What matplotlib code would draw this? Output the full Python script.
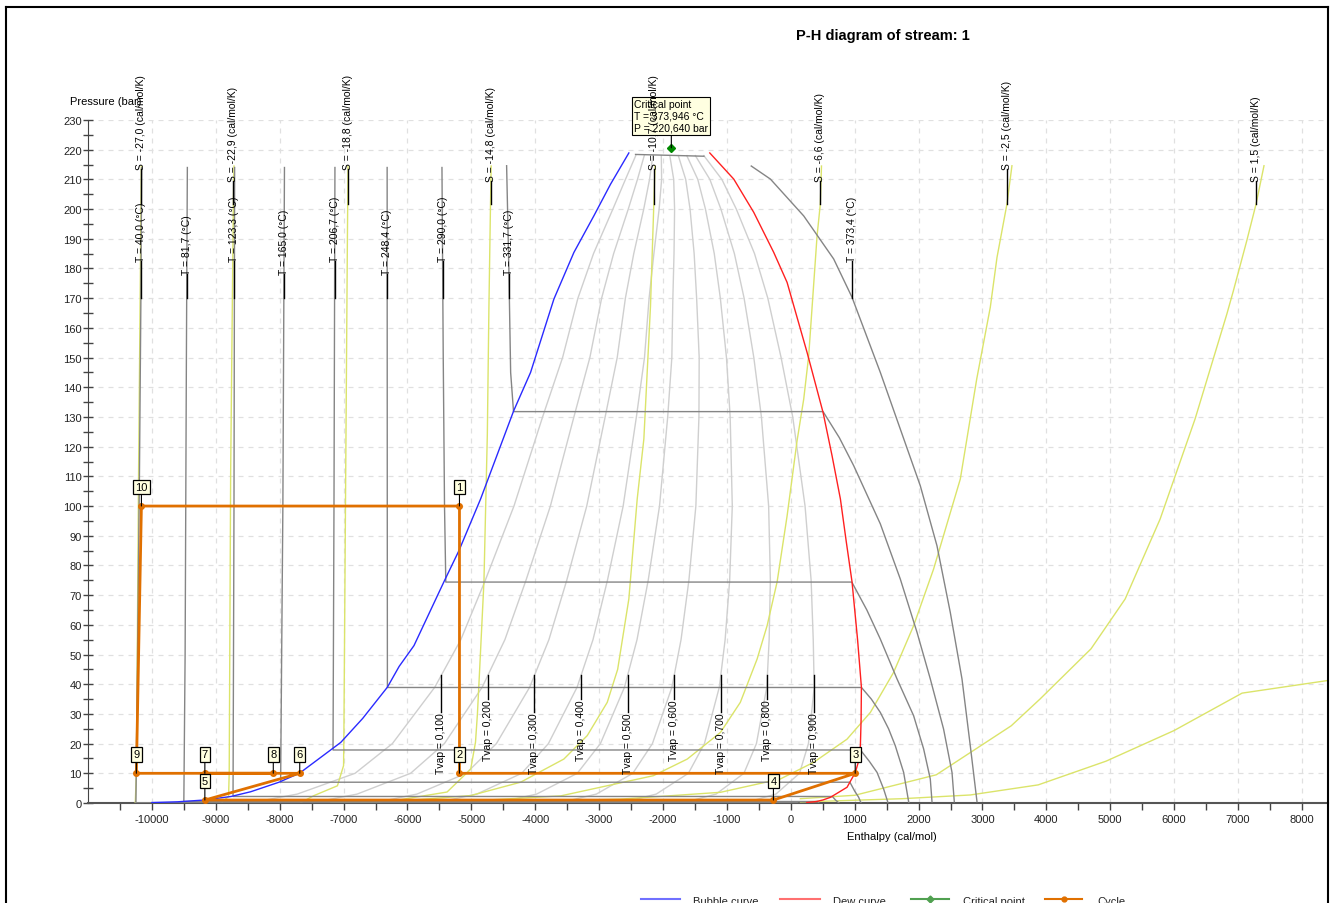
import numpy as np
import matplotlib
matplotlib.use("Agg")
import matplotlib.pyplot as plt
from matplotlib.lines import Line2D

plt.rcParams['font.family'] = ['Liberation Sans', 'DejaVu Sans']
plt.rcParams['axes.unicode_minus'] = False

# ---------------- saturation dome (H in cal/mol, P in bar) ----------------
bubble_h = [-10000, -9600, -9182, -8760, -8452, -8010, -7685, -7044, -6700, -6314, -6130,
            -5898, -5429, -5194, -4855, -4337, -4073, -3708, -3395, -3083, -2821, -2535]
bubble_p = [0.15, 0.4, 1.0, 2.2, 3.8, 7.0, 10.1, 20.4, 28.5, 39.0, 46.0,
            53.0, 74.5, 85.0, 102.4, 132.1, 145.0, 169.7, 185.4, 197.7, 208.4, 218.9]

dew_h = [250, 400, 500, 619, 880, 1010, 1060, 1089, 1100, 1105, 1045, 958, 868, 776,
         645, 505, 255, -58, -267, -580, -893, -1268]
dew_p = [0.15, 0.5, 1.0, 1.9, 5.3, 10.3, 14.0, 19.3, 28.0, 39.0, 55.0, 74.5, 88.0, 102.4,
         117.0, 131.5, 151.7, 175.3, 185.4, 198.9, 210.1, 218.9]

crit_h = -1870
crit_p = 220.64

# ---------------- constant vapour fraction lines ----------------
quality_p = [0.5, 1, 3, 10, 20, 39, 55, 75, 100, 130, 150, 170, 185, 200, 210, 218]
quality_values = [0.1, 0.2, 0.3, 0.4, 0.5, 0.6, 0.7, 0.8, 0.9]
quality_h = [
    [-8927, -8224, -7725, -6820, -6236, -5572, -5165, -4782, -4333, -3885, -3572, -3332, -3088, -2785, -2588, -2427],
    [-7904, -7267, -6788, -5951, -5422, -4830, -4475, -4145, -3763, -3395, -3145, -2961, -2773, -2544, -2400, -2294],
    [-6881, -6309, -5852, -5081, -4608, -4087, -3786, -3507, -3194, -2906, -2717, -2589, -2458, -2302, -2211, -2160],
    [-5858, -5352, -4915, -4212, -3794, -3345, -3096, -2870, -2624, -2417, -2290, -2218, -2143, -2061, -2022, -2027],
    [-4835, -4394, -3979, -3342, -2980, -2603, -2407, -2232, -2055, -1927, -1862, -1846, -1828, -1819, -1833, -1894],
    [-3812, -3437, -3043, -2473, -2166, -1861, -1718, -1595, -1486, -1438, -1434, -1474, -1513, -1577, -1645, -1761],
    [-2789, -2479, -2106, -1603, -1352, -1119, -1028, -957, -916, -949, -1007, -1103, -1198, -1336, -1456, -1628],
    [-1766, -1522, -1170, -734, -538, -376, -339, -320, -347, -460, -579, -731, -883, -1094, -1267, -1494],
    [-743, -564, -233, 136, 276, 366, 351, 318, 223, 30, -152, -360, -568, -853, -1079, -1361],
]

# ---------------- isotherms ----------------
iso_T = [40.0, 81.7, 123.3, 165.0, 206.7, 248.4, 290.0, 331.7, 373.4]
iso_h = [
    [-10160, -10172, -10195, -10225, -10250, 104, 110],
    [-9445, -9460, -9480, -9500, 420, 440],
    [-8705, -8715, -8730, 650, 700, 755],
    [-7925, -7950, -7985, 925, 1000, 1060, 1100],
    [-7135, -7150, -7165, 1090, 1230, 1350, 1453, 1516, 1520],
    [-6318, -6316, -6314, 1106, 1260, 1401, 1530, 1635, 1766, 1844, 1850],
    [-5460, -5440, -5420, -5400, 955, 1190, 1401, 1662, 1922, 2079, 2183, 2210],
    [-4448, -4412, -4385, -4340, 505, 760, 984, 1401, 1714, 1975, 2183, 2391, 2523, 2559],
    [-2430, -1360, np.nan, -619, -319, 202, 671, 958, 1401, 1714, 2027, 2288, 2496, 2679, 2809, 2914],
]
iso_p = [
    [214, 170, 110, 50, 0.074, 0.074, 0],
    [214, 150, 50, 0.5, 0.5, 0],
    [214, 100, 2.2, 2.2, 1.0, 0],
    [214, 100, 7.0, 7.0, 4.0, 2.0, 0],
    [214, 100, 17.85, 17.85, 14.0, 10.3, 4.7, 0.44, 0],
    [214, 100, 38.9, 38.9, 35.0, 30.5, 25.0, 19.3, 10.3, 0.45, 0],
    [214, 150, 100, 74.4, 74.4, 65.0, 55.2, 41.8, 29.4, 18.2, 8.1, 0.4],
    [214.6, 178.7, 145, 131.8, 131.8, 123.0, 113.6, 94, 75.4, 57.5, 41.8, 24.9, 10.3, 0.4],
    [218.4, 217.8, np.nan, 214.5, 210.1, 197.7, 183.2, 170.3, 145, 125.9, 106.8, 86.6, 64.2, 41.8, 19.3, 0.45],
]

# ---------------- isentropes ----------------
isen_S = [-27.0, -22.9, -18.8, -14.8, -10.7, -6.6, -2.5, 1.5, 5.6]
isen_h = [
    [-10260, -10243, -10208, -10186, -10170, -10165],
    [-8900, -8800, -8790, -8767, -8740, -8725, -8715],
    [-7670, -7462, -7096, -7000, -6995, -6966, -6940, -6930],
    [-6730, -6200, -5380, -5010, -4935, -4905, -4870, -4803, -4750, -4725, -4700, -4690],
    [-7200, -6100, -5011, -4229, -3552, -3186, -2873, -2710, -2535, -2404, -2300, -2196, -2144, -2125],
    [-5000, -3600, -2150, -1620, -1100, -790, -527, -371, -214, -58, 98, 202, 280, 411, 462, 480],
    [-4229, -2666, -1101, -163, 358, 880, 1245, 1609, 1922, 2235, 2653, 2910, 3122, 3227, 3383, 3461],
    [150, 1001, 2277, 3450, 3900, 4698, 5233, 5780, 6327, 6824, 6927, 7136, 7282, 7406],
    [150, 1745, 2808, 3872, 4935, 5999, 7063, 8451],
]
isen_p = [
    [0.1, 10, 112, 165, 202, 214.5],
    [0.3, 2.2, 10, 112, 170, 202, 214.5],
    [0.1, 2.5, 5.8, 12.6, 22.7, 112.5, 190, 214.5],
    [0.1, 0.8, 3.7, 11.4, 20.5, 30, 45, 74.5, 124, 167, 202, 214.5],
    [0.1, 0.7, 2.5, 7.0, 14.8, 22.7, 33.9, 45, 68.7, 102.4, 122.6, 167.4, 201.7, 214.5],
    [0.7, 2.4, 9.2, 14.8, 23.8, 33.9, 48.5, 59.7, 74.5, 96.7, 122, 136, 150.6, 191, 201.7, 214.5],
    [0.4, 1.3, 3.6, 8.1, 13.7, 21.5, 30.5, 44, 59.7, 78.8, 109.1, 142.8, 166.9, 183.7, 201.7, 214.6],
    [1.45, 2.6, 9.5, 26.0, 35.0, 51.9, 68.7, 95.6, 129.3, 164.6, 172.5, 189.3, 201.7, 214.6],
    [0.34, 1.45, 2.7, 6.1, 14.1, 24.4, 37, 41.4],
]
isen_labelled = 8  # the last isentrope leaves the chart before its label point

# ---------------- cycle of stream 1 ----------------
cycle_labels = ['1', '2', '3', '4', '5', '6', '7', '8', '9', '10']
cycle_h = [-5186, -5186, 1008, -272, -9171, -7686, -9171, -8100, -10243, -10164]
cycle_p = [100, 10, 10, 1, 1, 10, 10, 10, 10, 100]

# ---------------- colours ----------------
C_ISO = '#858585'
C_QUAL = '#cfcfcf'
C_ISEN = '#dbe46a'
C_BUB = '#2a2aff'
C_DEW = '#ff2020'
C_CRIT = '#008a00'
C_CYC = '#e07000'
BOX_FC = '#ffffe1'

W, H = 1330, 904
fig = plt.figure(figsize=(W / 100, H / 100), dpi=100)
ax = fig.add_axes([88 / W, 100 / H, (1327.5 - 88) / W, 683 / H])
ax.set_xlim(-11000, 8400)
ax.set_ylim(0, 230)


def h_on(hs, ps, p_target):
    hs = np.asarray(hs, float)
    ps = np.asarray(ps, float)
    for i in range(len(ps) - 1):
        p0, p1 = ps[i], ps[i + 1]
        if np.isnan(p0) or np.isnan(p1) or p0 == p1:
            continue
        if (p0 - p_target) * (p1 - p_target) <= 0:
            return hs[i] + (p_target - p0) / (p1 - p0) * (hs[i + 1] - hs[i])
    return None


def comma(v, nd):
    return f"{v:.{nd}f}".replace('.', ',')


FS = 8      # axis text
LFS = 7.5   # curve labels

# grid
ax.set_xticks(np.arange(-10000, 8001, 1000))
ax.set_xticks(np.arange(-10500, 8401, 500), minor=True)
ax.set_yticks(np.arange(0, 231, 10))
ax.set_yticks(np.arange(0, 231, 5), minor=True)
ax.grid(True, which='major', color='#e0e0e0', linestyle=(0, (4, 4)), linewidth=0.9, zorder=0)
ax.set_axisbelow(True)

# vapour fraction lines
for q, hs in zip(quality_values, quality_h):
    ax.plot(hs, quality_p, color=C_QUAL, lw=1.0, zorder=2)

# isentropes
for hs, ps in zip(isen_h, isen_p):
    ax.plot(hs, ps, color=C_ISEN, lw=1.0, zorder=3)

# isotherms
for hs, ps in zip(iso_h, iso_p):
    ax.plot(hs, ps, color=C_ISO, lw=1.0, zorder=3)

# dome and critical point
ax.plot(bubble_h, bubble_p, color=C_BUB, lw=1.0, zorder=4)
ax.plot(dew_h, dew_p, color=C_DEW, lw=1.0, zorder=4)
ax.plot([crit_h], [crit_p], marker='D', ms=4, color=C_CRIT, zorder=8, clip_on=False)

# cycle
ch = cycle_h + [cycle_h[0]]
cp = cycle_p + [cycle_p[0]]
ax.plot(ch, cp, color=C_CYC, lw=2.0, zorder=5, solid_joinstyle='miter')
ax.plot(cycle_h, cycle_p, linestyle='none', marker='o', ms=4, color=C_CYC, zorder=6)

# --- labels on the curves ---
# isotherms, anchored at 170 bar
for i, (t, hs, ps) in enumerate(zip(iso_T, iso_h, iso_p)):
    h = h_on(hs, ps, 170)
    pt = 182.5 if i % 2 == 0 else 178.1
    ax.plot([h, h], [170, pt], color='k', lw=1.0, zorder=6)
    ax.text(h, pt, f"T = {comma(t, 1)} (°C)", rotation=90, ha='center', va='bottom',
            fontsize=LFS, zorder=9, clip_on=False)

# isentropes, anchored near 202 bar
for i in range(isen_labelled):
    s, hs, ps = isen_S[i], isen_h[i], isen_p[i]
    h = h_on(hs, ps, 201.7)
    pt = 213.5 if i % 2 == 0 else 209.4
    ax.plot([h, h], [201.7, pt], color='k', lw=1.0, zorder=6)
    ax.text(h, pt, f"S = {comma(s, 1)} (cal/mol/K)", rotation=90, ha='center', va='bottom',
            fontsize=LFS, zorder=10, clip_on=False)

# vapour fractions, anchored at 43 bar
for i, (q, hs) in enumerate(zip(quality_values, quality_h)):
    h = h_on(hs, quality_p, 43)
    pt = 30.6 if i % 2 == 0 else 35.0
    ax.plot([h, h], [43, pt], color='k', lw=1.0, zorder=6)
    ax.text(h, pt, f"Tvap = {comma(q, 3)}", rotation=90, ha='center', va='top',
            fontsize=LFS, zorder=9)

# critical point tag
ax.annotate("Critical point\nT = 373,946 °C\nP = 220,640 bar",
            xy=(crit_h, crit_p), xytext=(0, 32), textcoords='offset pixels',
            ha='center', va='center', multialignment='left', fontsize=LFS,
            linespacing=1.25,
            bbox=dict(boxstyle='square,pad=0.2', fc=BOX_FC, ec='k', lw=0.8),
            arrowprops=dict(arrowstyle='-', color='k', lw=0.8, shrinkA=0, shrinkB=0),
            zorder=8, annotation_clip=False)

# cycle point tags
for lab, h, p in zip(cycle_labels, cycle_h, cycle_p):
    ax.annotate(lab, xy=(h, p), xytext=(0, 19), textcoords='offset pixels',
                ha='center', va='center', fontsize=FS,
                bbox=dict(boxstyle='square,pad=0.2', fc=BOX_FC, ec='k', lw=0.9),
                arrowprops=dict(arrowstyle='-', color='k', lw=0.8, shrinkA=0, shrinkB=0),
                zorder=11)

# axes styling
for side in ('top', 'right'):
    ax.spines[side].set_visible(False)
ax.spines['left'].set_color('#444444')
ax.spines['bottom'].set_color('#555555')
ax.spines['bottom'].set_linewidth(1.5)
ax.tick_params(axis='x', which='both', direction='out', length=5, width=1,
               color='#444444', labelsize=FS, labelcolor='#222222', pad=3)
ax.tick_params(axis='y', which='both', direction='inout', length=7, width=1,
               color='#444444', labelsize=FS, labelcolor='#222222', pad=1)

# figure texts
fig.text(883 / W, 1 - 36 / H, "P-H diagram of stream: 1", ha='center', va='center',
         fontsize=10.5, fontweight='bold')
fig.text(70 / W, 1 - 102 / H, "Pressure (bar)", ha='left', va='center', fontsize=FS)
fig.text(847 / W, 1 - 837 / H, "Enthalpy (cal/mol)", ha='left', va='center', fontsize=FS)

# legend along the bottom edge
leg_y = 1 - 900 / H
legend_items = [
    ("Bubble curve", '#7070ff', None, 641, 680, 693),
    ("Dew curve", '#ff7070', None, 780, 820, 833),
    ("Critical point", '#50a050', 'D', 911, 949, 963),
    ("Cycle", C_CYC, 'o', 1045, 1082, 1097),
]
for text, col, mk, x0, x1, xt in legend_items:
    fig.add_artist(Line2D([x0 / W, x1 / W], [leg_y, leg_y], color=col, lw=1.5))
    if mk:
        fig.add_artist(Line2D([(x0 + x1) / 2 / W], [leg_y], color=col, marker=mk, ms=3.5, lw=0))
    fig.text(xt / W, 1 - 902 / H, text, ha='left', va='center', fontsize=FS, color='#222222')

# outer frame of the panel
frame_kw = dict(color='k', lw=1.5)
fig.add_artist(Line2D([6 / W, 1328 / W], [1 - 8 / H, 1 - 8 / H], **frame_kw))
fig.add_artist(Line2D([6 / W, 6 / W], [0, 1 - 8 / H], **frame_kw))
fig.add_artist(Line2D([1328 / W, 1328 / W], [0, 1 - 8 / H], **frame_kw))

fig.savefig("out.png", dpi=100, facecolor='white')
